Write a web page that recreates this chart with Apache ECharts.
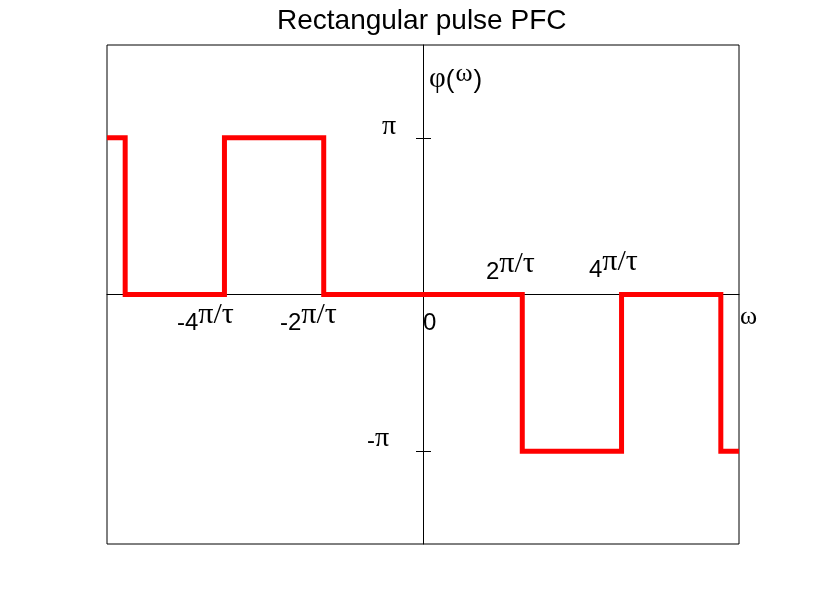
<!DOCTYPE html>
<html>
<head>
<meta charset="utf-8">
<script src="https://cdn.jsdelivr.net/npm/echarts@6/dist/echarts.min.js"></script>
<style>
html,body{margin:0;padding:0;background:#fff;}
#c{width:817px;height:612px;}
</style>
</head>
<body>
<div id="c"></div>
<script>
const PI = Math.PI;
// Breakpoints of the phase-frequency characteristic (omega, tau = 1)
const omegaBreaks = [-20, -6 * PI, -4 * PI, -2 * PI, 2 * PI, 4 * PI, 6 * PI, 20];
// Phase value held from each breakpoint until the next one
const phaseValues = [PI, 0, PI, 0, -PI, 0, -PI, -PI];
// Axis annotation texts
const xTickNums = ['-4', '-2', '0', '2', '4'];
const xTickUnit = 'π/τ';
const yTickLabels = ['π', '-π'];
const yTickValues = [PI, -PI];
const titleText = 'Rectangular pulse PFC';
const yName = ['φ', '(', 'ω', ')'];
const xName = 'ω';

const data = omegaBreaks.map((w, i) => [w, phaseValues[i]]);

const chart = echarts.init(document.getElementById('c'), null, {renderer: 'canvas'});

const SANS = 'Liberation Sans';
const SERIF = 'Liberation Serif';

const axisCommon = {
  axisLine: {onZero: true, lineStyle: {color: '#000', width: 1}},
  axisTick: {show: false},
  axisLabel: {show: false},
  splitLine: {show: false}
};

chart.setOption({
  animation: false,
  backgroundColor: '#fff',
  title: {
    text: titleText, left: 277, top: 7, padding: 0,
    textStyle: {fontFamily: SANS, fontSize: 28, fontWeight: 'normal', color: '#000'}
  },
  grid: {left: 107, right: 78, top: 45, bottom: 68, show: true, borderColor: '#000', borderWidth: 1},
  xAxis: Object.assign({type: 'value', min: -20, max: 20}, axisCommon),
  yAxis: Object.assign({type: 'value', min: -5, max: 5}, axisCommon),
  series: [{
    type: 'line', step: 'end', data: data, showSymbol: false, z: 3,
    lineStyle: {color: '#ff0000', width: 5, join: 'miter', cap: 'butt'}
  }]
});

const rich = {
  a: {fontFamily: SANS, fontSize: 24, color: '#000', lineHeight: 24, verticalAlign: 'bottom'},
  b: {fontFamily: SERIF, fontSize: 30, color: '#000', lineHeight: 30, verticalAlign: 'bottom', padding: [0, 0, 5, 0]},
  g: {fontFamily: SERIF, fontSize: 28, color: '#000', lineHeight: 28, verticalAlign: 'bottom'},
  x: {fontFamily: SERIF, fontSize: 26, color: '#000', lineHeight: 26, verticalAlign: 'bottom'},
  f: {fontFamily: SERIF, fontSize: 29, color: '#000', lineHeight: 29, verticalAlign: 'bottom'},
  p: {fontFamily: SANS, fontSize: 26, color: '#000', lineHeight: 26, verticalAlign: 'bottom'},
  w: {fontFamily: SERIF, fontSize: 26, color: '#000', lineHeight: 26, verticalAlign: 'bottom', padding: [0, 1, 7, 1]}
};

function txt(x, y, text) {
  return {type: 'text', x: x, y: y, z: 10,
    style: {text: text, rich: rich, align: 'left', verticalAlign: 'bottom', fill: '#000'}};
}

const els = [];
// x tick labels
const xLabelPos = [[177, 335], [280, 335], [423, 335], [486, 284], [589, 282]];
xTickNums.forEach((n, i) => {
  const t = n === '0' ? '{a|0}' : '{a|' + n + '}{b|' + xTickUnit + '}';
  els.push(txt(xLabelPos[i][0], xLabelPos[i][1], t));
});
// y tick labels
els.push(txt(382, 141, '{g|' + yTickLabels[0] + '}'));
els.push(txt(367, 453, '{a|-}{g|' + yTickLabels[1].slice(1) + '}'));
// axis names
els.push(txt(740, 330, '{x|' + xName + '}'));
els.push(txt(429, 94, '{f|' + yName[0] + '}{p|' + yName[1] + '}{w|' + yName[2] + '}{p|' + yName[3] + '}'));
// y ticks at ±π
yTickValues.forEach(v => {
  const p = chart.convertToPixel({gridIndex: 0}, [0, v]);
  const yy = Math.round(p[1]) + 0.5;
  els.push({type: 'line', z: 5, shape: {x1: p[0] - 7, y1: yy, x2: p[0] + 8, y2: yy},
    style: {stroke: '#000', lineWidth: 1}});
});
chart.setOption({graphic: {elements: els}});
</script>
</body>
</html>
